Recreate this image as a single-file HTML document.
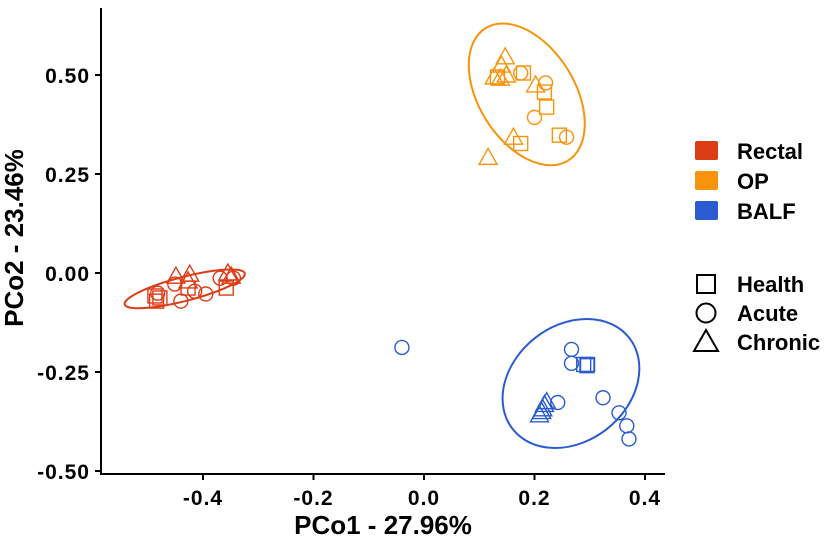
<!DOCTYPE html>
<html><head><meta charset="utf-8"><style>
body{margin:0;background:#fff;}
svg text{font-family:"Liberation Sans",Arial,sans-serif;font-weight:bold;}
</style></head><body>
<svg id="chart" width="827" height="540" xmlns="http://www.w3.org/2000/svg">
<g id="ellipses"></g><g id="points"></g><g id="axes"></g><g id="legend"></g>
</svg>
<script>
const xTicks=[-0.4,-0.2,0.0,0.2,0.4];
const yTicks=[0.50,0.25,0.00,-0.25,-0.50];
const groups=["Rectal","OP","BALF"];
const groupColors=["#dc3d17","#f7940c","#2a5ccf"];
const shapes=["Health","Acute","Chronic"];
const rectalHealthX=[-0.487,-0.478,-0.484,-0.358,-0.427];
const rectalHealthY=[-0.058,-0.063,-0.071,-0.038,-0.038];
const rectalAcuteX=[-0.451,-0.44,-0.395,-0.369,-0.345,-0.415,-0.482];
const rectalAcuteY=[-0.028,-0.071,-0.053,-0.013,-0.013,-0.046,-0.051];
const rectalChronicX=[-0.449,-0.424,-0.427,-0.355,-0.349];
const rectalChronicY=[-0.008,-0.003,-0.020,0.0,-0.008];
const opHealthX=[0.133,0.180,0.218,0.222,0.245,0.175];
const opHealthY=[0.495,0.505,0.457,0.419,0.348,0.327];
const opAcuteX=[0.175,0.220,0.200,0.258];
const opAcuteY=[0.505,0.480,0.393,0.343];
const opChronicX=[0.147,0.140,0.127,0.149,0.138,0.202,0.162,0.116];
const opChronicY=[0.546,0.525,0.495,0.500,0.492,0.475,0.343,0.292];
const balfHealthX=[0.289,0.295,0.296];
const balfHealthY=[-0.231,-0.234,-0.231];
const balfAcuteX=[0.267,0.267,0.242,0.324,0.353,0.367,0.371,-0.04];
const balfAcuteY=[-0.193,-0.228,-0.327,-0.315,-0.353,-0.386,-0.419,-0.188];
const balfChronicX=[0.218,0.215,0.213,0.209,0.222];
const balfChronicY=[-0.332,-0.343,-0.350,-0.358,-0.325];
const ellipseCX=[-0.433,0.186,0.266];
const ellipseCY=[-0.040,0.451,-0.279];

const NS="http://www.w3.org/2000/svg";
const X0=101,XEND=665,YTOP=8,YBOT=474;
function sx(v){return 424+v*552.5;}
function sy(v){return 273-v*396;}
function mk(t,a,p){const e=document.createElementNS(NS,t);for(const k in a)e.setAttribute(k,a[k]);p.appendChild(e);return e;}
const ax=document.getElementById('axes'),pts=document.getElementById('points'),el=document.getElementById('ellipses'),lg=document.getElementById('legend');

const eGeo=[[62,12,-14.5],[78,48,58],[74,58,-38]];
groups.forEach((g,i)=>{
  const e=mk('ellipse',{cx:sx(ellipseCX[i]),cy:sy(ellipseCY[i]),rx:eGeo[i][0],ry:eGeo[i][1],transform:`rotate(${eGeo[i][2]} ${sx(ellipseCX[i])} ${sy(ellipseCY[i])})`,fill:'none',stroke:groupColors[i],'stroke-width':2},el);
  
  
});
function marker(shape,x,y,col,parent,sw){
  let e;
  if(shape==='Health')e=mk('rect',{x:x-7,y:y-7,width:14,height:14},parent);
  else if(shape==='Acute')e=mk('circle',{cx:x,cy:y,r:7},parent);
  else e=mk('polygon',{points:`${x},${y-9} ${x-9},${y+7} ${x+9},${y+7}`},parent);
  e.setAttribute('fill','none');e.setAttribute('stroke',col);e.setAttribute('stroke-width',sw||1.4);
  return e;
}
const series=[[rectalHealthX,rectalHealthY,0,'Health'],[rectalAcuteX,rectalAcuteY,0,'Acute'],[rectalChronicX,rectalChronicY,0,'Chronic'],
[opHealthX,opHealthY,1,'Health'],[opAcuteX,opAcuteY,1,'Acute'],[opChronicX,opChronicY,1,'Chronic'],
[balfHealthX,balfHealthY,2,'Health'],[balfAcuteX,balfAcuteY,2,'Acute'],[balfChronicX,balfChronicY,2,'Chronic']];
series.forEach(s=>{s[0].forEach((v,j)=>{
  const e=marker(s[3],sx(v),sy(s[1][j]),groupColors[s[2]],pts);
  
  
});});

let a=mk('line',{x1:X0,y1:YTOP,x2:X0,y2:YBOT+1,stroke:'#000','stroke-width':2},ax);

a=mk('line',{x1:X0-1,y1:YBOT,x2:XEND,y2:YBOT,stroke:'#000','stroke-width':2},ax);

xTicks.forEach(t=>{
  mk('line',{x1:sx(t),y1:YBOT,x2:sx(t),y2:YBOT+6,stroke:'#000','stroke-width':2},ax);
  const tx=mk('text',{x:sx(t),y:505,'text-anchor':'middle','font-size':21,'letter-spacing':1,fill:'#000'},ax);
  tx.textContent=t.toFixed(1);
  
});
yTicks.forEach(t=>{
  mk('line',{x1:X0-6,y1:sy(t),x2:X0,y2:sy(t),stroke:'#000','stroke-width':2},ax);
  const tx=mk('text',{x:X0-11,y:sy(t)+8,'text-anchor':'end','font-size':21,'letter-spacing':1,fill:'#000'},ax);
  tx.textContent=t.toFixed(2);
  
});
let t=mk('text',{x:383,y:534,'text-anchor':'middle','font-size':26,fill:'#000'},ax);t.textContent='PCo1 - 27.96%';

t=mk('text',{x:0,y:0,'text-anchor':'middle','font-size':26,fill:'#000',transform:'translate(23,238) rotate(-90)'},ax);t.textContent='PCo2 - 23.46%';


groups.forEach((g,i)=>{
  const r=mk('rect',{x:695,y:141+i*30,width:23,height:19,rx:2,fill:groupColors[i]},lg);
  
  const tx=mk('text',{x:737,y:159+i*30,'font-size':22,fill:'#000'},lg);tx.textContent=g;
  
});
shapes.forEach((s,i)=>{
  const cy=284+i*29;
  let m;
  if(s==='Health')m=mk('rect',{x:697,y:cy-9,width:18,height:18},lg);
  else if(s==='Acute')m=mk('circle',{cx:706,cy:cy,r:9.5},lg);
  else m=mk('polygon',{points:`706,${cy-12} 694,${cy+9} 718,${cy+9}`},lg);
  m.setAttribute('fill','none');m.setAttribute('stroke','#000');m.setAttribute('stroke-width',2);
  
  const tx=mk('text',{x:737,y:cy+8,'font-size':22,fill:'#000'},lg);tx.textContent=s;
  
});
</script>
</body></html>
